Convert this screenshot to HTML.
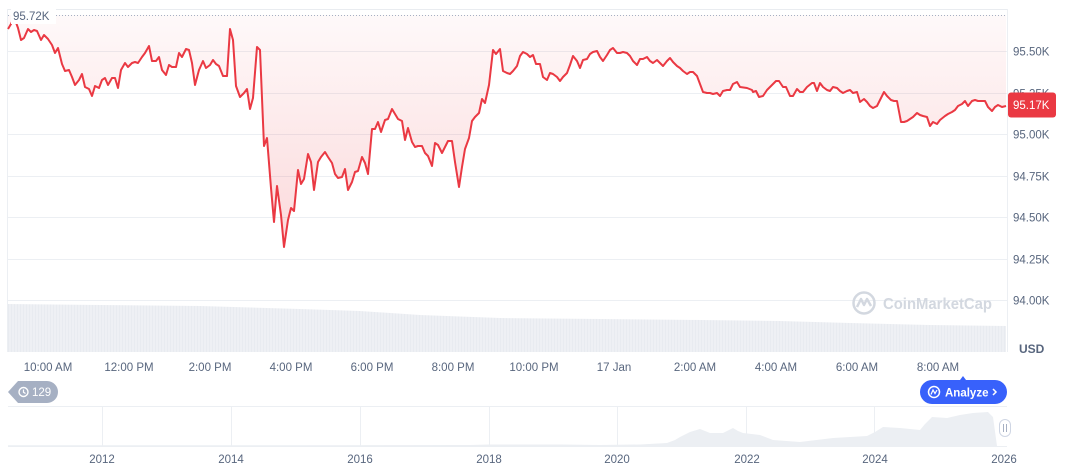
<!DOCTYPE html>
<html><head><meta charset="utf-8"><style>
html,body{margin:0;padding:0;background:#fff;}
svg{display:block;font-family:"Liberation Sans",sans-serif;}
</style></head><body>
<svg width="1072" height="470" viewBox="0 0 1072 470" xmlns="http://www.w3.org/2000/svg">
<defs>
<linearGradient id="fg" gradientUnits="userSpaceOnUse" x1="0" y1="15" x2="0" y2="260">
<stop offset="0" stop-color="#ea3943" stop-opacity="0.03"/>
<stop offset="1" stop-color="#ea3943" stop-opacity="0.2"/>
</linearGradient>
<pattern id="vb" width="3" height="60" patternUnits="userSpaceOnUse">
<rect width="3" height="60" fill="#eef0f4"/>
<rect x="2.3" width="0.7" height="60" fill="#e6e9ee"/>
</pattern>
</defs>
<rect width="1072" height="470" fill="#fff"/>
<!-- frame -->
<line x1="8" y1="9.5" x2="1007.5" y2="9.5" stroke="#e9ecf0" stroke-width="1"/>
<line x1="7.5" y1="9" x2="7.5" y2="352" stroke="#eceff3" stroke-width="1"/>
<line x1="1007.5" y1="9" x2="1007.5" y2="352" stroke="#eceff3" stroke-width="1"/>
<!-- grid -->
<g stroke="#eceff3" stroke-width="1">
<line x1="8" y1="51.5" x2="1007" y2="51.5"/>
<line x1="8" y1="93.5" x2="1007" y2="93.5"/>
<line x1="8" y1="134.5" x2="1007" y2="134.5"/>
<line x1="8" y1="176.5" x2="1007" y2="176.5"/>
<line x1="8" y1="217.5" x2="1007" y2="217.5"/>
<line x1="8" y1="259.5" x2="1007" y2="259.5"/>
<line x1="8" y1="300.5" x2="1007" y2="300.5"/>
</g>
<!-- volume -->
<polygon fill="url(#vb)" points="8,304 100,305 200,306 300,309 360,311 420,315 500,318 600,319 700,320 780,321 850,323 930,325 1006,326 1006,352 8,352"/>
<!-- watermark -->
<g fill="none" stroke="#d3d8e0" stroke-width="2.5">
<circle cx="864" cy="303" r="10.5"/>
<polyline points="857,307 861,299 864,305 867,299 871,306" stroke-linejoin="round"/>
</g>
<text x="883" y="309" font-size="16" font-weight="bold" fill="#d3d8e0" textLength="109" lengthAdjust="spacingAndGlyphs">CoinMarketCap</text>
<!-- fill + line -->
<path fill="url(#fg)" d="M8,15 L8,29 11,24 14,17 18,28 21,40 24,38 28,29 31,32 34,30 37,31 41,40 44,35 48,39 52,45 55,53 58,48 62,64 65,71 69,70 72,77 75,85 79,80 82,74 85,87 89,89 92,96 95,86 99,88 102,80 105,78 108,85 112,78 115,78 118,88 121,70 125,63 128,67 132,63 135,62 138,63 142,57 145,53 149,46 152,61 156,61 159,57 162,70 166,75 169,65 172,67 176,67 179,53 182,57 186,49 189,50 192,63 195,85 199,70 203,61 206,68 210,65 213,60 216,64 219,66 223,76 227,76 230,29 233,40 236,86 240,97 244,93 247,89 250,109 253,98 257,47 260,50 264,146 267,138 271,188 274,222 277,186 281,215 284,247 288,220 291,208 294,211 298,170 301,184 304,179 308,154 311,162 314,190 318,162 321,157 325,152 328,157 332,163 335,174 338,178 342,177 345,169 348,190 352,182 355,172 358,171 362,157 365,163 368,174 372,129 375,129 378,122 381,132 385,120 388,119 392,109 395,114 398,119 402,121 405,140 408,128 412,142 415,147 418,146 422,146 425,153 428,156 432,166 435,143 438,145 442,153 445,147 448,141 452,141 455,162 459,187 462,167 465,149 469,138 472,121 475,117 479,113 482,99 485,103 489,85 493,50 496,54 500,49 503,71 507,73 510,74 513,71 517,66 520,56 523,52 527,54 530,57 533,55 536,64 540,64 543,77 547,80 550,73 553,74 557,77 560,81 563,77 567,73 570,65 573,56 577,61 580,68 583,60 587,59 590,54 593,52 597,51 600,57 603,61 607,55 610,50 613,48 617,53 620,53 623,52 627,53 630,56 633,61 637,65 640,59 643,59 647,57 650,61 653,63 657,60 660,63 663,66 667,61 670,58 673,62 677,66 680,68 683,71 687,74 690,72 693,72 697,76 700,84 703,92 707,93 710,93 713,94 717,93 720,96 723,91 727,90 730,90 733,84 737,82 740,87 747,88 752,90 753,92 756,91 759,97 763,96 767,90 772,85 776,81 779,81 783,87 786,87 790,96 793,96 797,89 800,92 803,92 807,87 812,83 814,83 817,91 820,83 823,87 827,90 830,91 833,87 837,88 840,91 843,93 847,91 850,90 853,93 857,92 860,102 864,99 867,102 870,106 873,108 877,106 880,100 884,92 887,96 891,100 894,101 897,101 901,122 904,122 907,121 910,119 913,117 917,113 920,115 923,116 927,117 930,126 933,122 937,124 940,120 945,116 948,114 952,112 955,110 958,106 962,104 965,101 968,106 972,101 975,100 978,101 982,101 985,101 988,107 992,111 995,107 998,105 1002,107 1006,106 L1006,15 Z"/>
<polyline fill="none" stroke="#ea3943" stroke-width="2" stroke-linejoin="round" points="8,29 11,24 14,17 18,28 21,40 24,38 28,29 31,32 34,30 37,31 41,40 44,35 48,39 52,45 55,53 58,48 62,64 65,71 69,70 72,77 75,85 79,80 82,74 85,87 89,89 92,96 95,86 99,88 102,80 105,78 108,85 112,78 115,78 118,88 121,70 125,63 128,67 132,63 135,62 138,63 142,57 145,53 149,46 152,61 156,61 159,57 162,70 166,75 169,65 172,67 176,67 179,53 182,57 186,49 189,50 192,63 195,85 199,70 203,61 206,68 210,65 213,60 216,64 219,66 223,76 227,76 230,29 233,40 236,86 240,97 244,93 247,89 250,109 253,98 257,47 260,50 264,146 267,138 271,188 274,222 277,186 281,215 284,247 288,220 291,208 294,211 298,170 301,184 304,179 308,154 311,162 314,190 318,162 321,157 325,152 328,157 332,163 335,174 338,178 342,177 345,169 348,190 352,182 355,172 358,171 362,157 365,163 368,174 372,129 375,129 378,122 381,132 385,120 388,119 392,109 395,114 398,119 402,121 405,140 408,128 412,142 415,147 418,146 422,146 425,153 428,156 432,166 435,143 438,145 442,153 445,147 448,141 452,141 455,162 459,187 462,167 465,149 469,138 472,121 475,117 479,113 482,99 485,103 489,85 493,50 496,54 500,49 503,71 507,73 510,74 513,71 517,66 520,56 523,52 527,54 530,57 533,55 536,64 540,64 543,77 547,80 550,73 553,74 557,77 560,81 563,77 567,73 570,65 573,56 577,61 580,68 583,60 587,59 590,54 593,52 597,51 600,57 603,61 607,55 610,50 613,48 617,53 620,53 623,52 627,53 630,56 633,61 637,65 640,59 643,59 647,57 650,61 653,63 657,60 660,63 663,66 667,61 670,58 673,62 677,66 680,68 683,71 687,74 690,72 693,72 697,76 700,84 703,92 707,93 710,93 713,94 717,93 720,96 723,91 727,90 730,90 733,84 737,82 740,87 747,88 752,90 753,92 756,91 759,97 763,96 767,90 772,85 776,81 779,81 783,87 786,87 790,96 793,96 797,89 800,92 803,92 807,87 812,83 814,83 817,91 820,83 823,87 827,90 830,91 833,87 837,88 840,91 843,93 847,91 850,90 853,93 857,92 860,102 864,99 867,102 870,106 873,108 877,106 880,100 884,92 887,96 891,100 894,101 897,101 901,122 904,122 907,121 910,119 913,117 917,113 920,115 923,116 927,117 930,126 933,122 937,124 940,120 945,116 948,114 952,112 955,110 958,106 962,104 965,101 968,106 972,101 975,100 978,101 982,101 985,101 988,107 992,111 995,107 998,105 1002,107 1006,106"/>
<!-- top dotted high line -->
<line x1="8" y1="15.5" x2="1007" y2="15.5" stroke="#a6b0c3" stroke-width="1" stroke-dasharray="1 2"/>
<rect x="11" y="8" width="45" height="16" fill="#fff"/>
<text x="13" y="20" font-size="11.5" fill="#58667e">95.72K</text>
<!-- y axis labels -->
<g font-size="11.5" fill="#58667e">
<text x="1013" y="55.5">95.50K</text>
<text x="1013" y="97.5">95.25K</text>
<text x="1013" y="138.5">95.00K</text>
<text x="1013" y="180.5">94.75K</text>
<text x="1013" y="221.5">94.50K</text>
<text x="1013" y="263.5">94.25K</text>
<text x="1013" y="304.5">94.00K</text>
</g>
<rect x="1008" y="92.5" width="48" height="25" rx="3" fill="#ea3943"/>
<text x="1013" y="109" font-size="11.5" fill="#fff">95.17K</text>
<text x="1019" y="353" font-size="12" font-weight="bold" fill="#58667e">USD</text>
<!-- x axis labels -->
<g font-size="11.5" fill="#58667e" text-anchor="middle">
<text x="48" y="371">10:00 AM</text>
<text x="129" y="371">12:00 PM</text>
<text x="210" y="371">2:00 PM</text>
<text x="291" y="371">4:00 PM</text>
<text x="372" y="371">6:00 PM</text>
<text x="453" y="371">8:00 PM</text>
<text x="534" y="371">10:00 PM</text>
<text x="614" y="371">17 Jan</text>
<text x="695" y="371">2:00 AM</text>
<text x="776" y="371">4:00 AM</text>
<text x="857" y="371">6:00 AM</text>
<text x="938" y="371">8:00 AM</text>
</g>
<!-- badge 129 -->
<path d="M8,392 L18,381 L47,381 A11,11 0 0 1 47,403 L18,403 Z" fill="#a6b0c3"/>
<circle cx="23.5" cy="392" r="4.5" fill="none" stroke="#fff" stroke-width="1.4"/>
<polyline points="23.5,389.5 23.5,392.3 25.5,393.5" fill="none" stroke="#fff" stroke-width="1.2"/>
<text x="32" y="396" font-size="11.5" fill="#fff">129</text>
<!-- analyze button -->
<path d="M932,380 L960,380 L963,376 L966,380 L995,380 A12,12 0 0 1 995,404 L932,404 A12,12 0 0 1 932,380 Z" fill="#3861fb"/>
<circle cx="934" cy="392" r="5.5" fill="none" stroke="#fff" stroke-width="1.5"/>
<polyline points="931,394.5 933,390 935,393.5 937,390" fill="none" stroke="#fff" stroke-width="1.2"/>
<text x="945" y="396.5" font-size="11.5" font-weight="bold" fill="#fff">Analyze</text>
<polyline points="993,389 996,392 993,395" fill="none" stroke="#fff" stroke-width="1.5"/>
<!-- navigator -->
<line x1="8" y1="406.5" x2="1007" y2="406.5" stroke="#eceff3"/>
<line x1="8" y1="446.5" x2="1007" y2="446.5" stroke="#eceff3"/>
<g stroke="#eceff3">
<line x1="102.5" y1="406" x2="102.5" y2="446"/>
<line x1="231.5" y1="406" x2="231.5" y2="446"/>
<line x1="360.5" y1="406" x2="360.5" y2="446"/>
<line x1="489.5" y1="406" x2="489.5" y2="446"/>
<line x1="617.5" y1="406" x2="617.5" y2="446"/>
<line x1="746.5" y1="406" x2="746.5" y2="446"/>
<line x1="874.5" y1="406" x2="874.5" y2="446"/>
</g>
<polygon fill="#eceff3" points="8,446 8,445.3 300,445.3 470,445 490,444.5 560,444.5 600,445 640,444.5 667,443 675,440 680,437 690,432 700,429 705,431 710,433 723,433 733,428 738,431 743,433 760,435 773,440 800,442 833,438 867,436 875,432 883,427 900,428 920,430 925,424 932,417 947,418 960,415 973,413 988,412 993,417 997,446"/>
<rect x="999.5" y="419.5" width="11" height="17" rx="5.5" fill="#fff" stroke="#cfd6e4" stroke-width="1"/>
<line x1="1003.5" y1="424" x2="1003.5" y2="432" stroke="#a6b0c3" stroke-width="1"/>
<line x1="1006.5" y1="424" x2="1006.5" y2="432" stroke="#a6b0c3" stroke-width="1"/>
<g font-size="11.5" fill="#58667e" text-anchor="middle">
<text x="102" y="463">2012</text>
<text x="231" y="463">2014</text>
<text x="360" y="463">2016</text>
<text x="489" y="463">2018</text>
<text x="617" y="463">2020</text>
<text x="747" y="463">2022</text>
<text x="875" y="463">2024</text>
<text x="1004" y="463">2026</text>
</g>
</svg>
</body></html>
